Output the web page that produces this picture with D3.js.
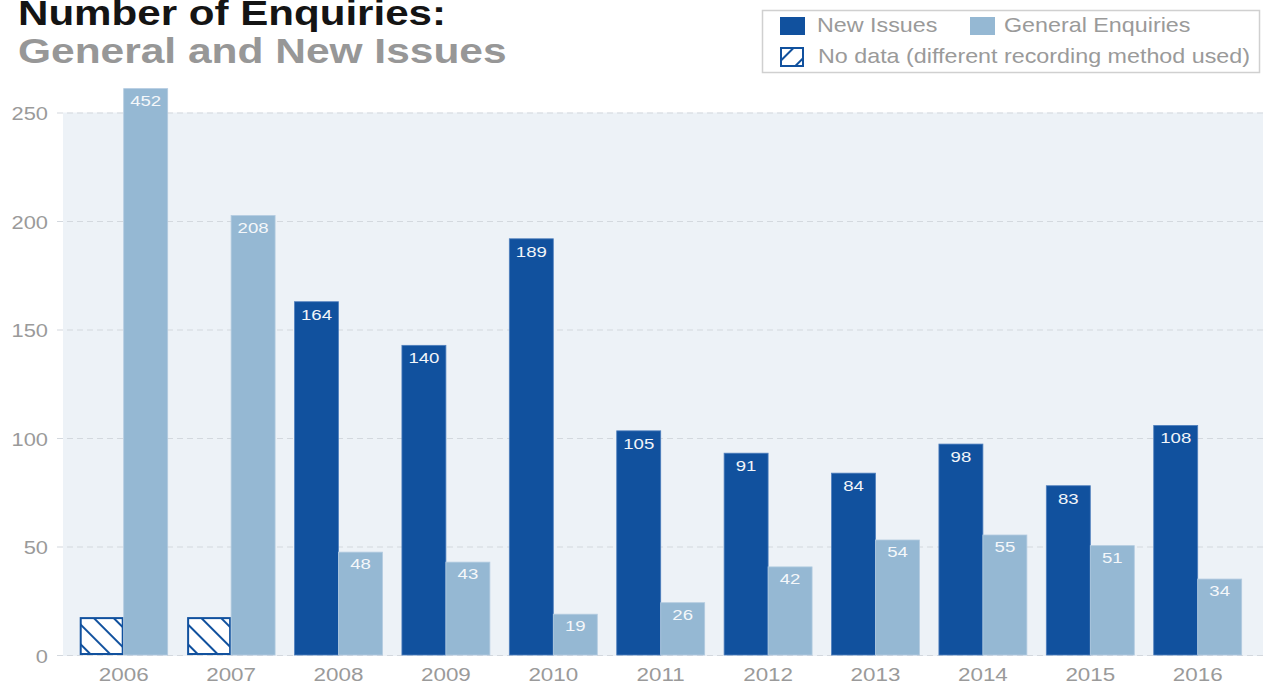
<!DOCTYPE html>
<html>
<head>
<meta charset="utf-8">
<script src="https://cdn.jsdelivr.net/npm/d3@7"></script>
<style>
  body { margin: 0; background: #fff; }
  svg { display: block; font-family: "Liberation Sans", Arial, sans-serif; }
</style>
</head>
<body>
<div id="chart"></div>
<script>
const years = ['2006', '2007', '2008', '2009', '2010', '2011', '2012', '2013', '2014', '2015', '2016'];
// bar heights as drawn in the picture, and the numbers printed on them
const newIssues = [null, null, 162.8, 142.7, 191.8, 103.3, 93, 83.8, 97.2, 78, 105.8];
const newLabels = [null, null, '164', '140', '189', '105', '91', '84', '98', '83', '108'];
const general = [261, 202.5, 47.4, 42.8, 18.8, 24.1, 40.6, 53, 55.3, 50.4, 35];
const generalLabels = ['452', '208', '48', '43', '19', '26', '42', '54', '55', '51', '34'];
const noDataHeight = 17;
const yTicks = [0, 50, 100, 150, 200, 250];

const w = 1263;
const h = 686;
const dark = '#11519e';
const light = '#95b8d3';
const grey = '#9a9a9a';
const sx = 1.15; // the original lettering is a little wide

const stretch = (x, y, s) => 'translate(' + x + ',' + y + ') scale(' + (s || sx) + ',1)';

const svg = d3.select('#chart')
  .append('svg')
  .attr('width', w)
  .attr('height', h);

const defs = svg.append('defs');
[['hatchBack', -45], ['hatchFwd', 45]].forEach(([id, angle]) => {
  const p = defs.append('pattern')
    .attr('id', id)
    .attr('patternUnits', 'userSpaceOnUse')
    .attr('width', 14)
    .attr('height', 14)
    .attr('patternTransform', 'rotate(' + angle + ')');
  p.append('rect').attr('width', 14).attr('height', 14).attr('fill', '#fff');
  p.append('line')
    .attr('x1', 7).attr('x2', 7)
    .attr('y1', 0).attr('y2', 14)
    .attr('stroke', dark)
    .attr('stroke-width', 2);
});

const xScale = d3.scaleBand()
  .domain(years)
  .range([70, 1251.4])
  .paddingInner(0.181)
  .paddingOuter(0.0905);
const x1 = d3.scaleBand()
  .domain(['new', 'general'])
  .range([0, xScale.bandwidth()]);
const yScale = d3.scaleLinear()
  .domain([0, 250])
  .range([655, 112.5]);

// plot background
svg.append('rect')
  .attr('x', 63)
  .attr('y', yScale(250))
  .attr('width', w - 63)
  .attr('height', yScale(0) - yScale(250) + 1)
  .attr('fill', '#edf2f7');

const yAxis = d3.axisLeft(yScale)
  .tickValues(yTicks)
  .tickSize(0)
  .tickFormat('');
const gy = svg.append('g')
  .attr('id', 'y-axis')
  .call(yAxis);
gy.select('.domain').remove();
gy.selectAll('.tick line')
  .attr('x1', 57)
  .attr('x2', w)
  .attr('stroke', '#d3d8de')
  .attr('stroke-width', 1.2)
  .attr('stroke-dasharray', '6,4');
gy.selectAll('.tick')
  .append('text')
  .attr('transform', stretch(48, 7))
  .attr('text-anchor', 'end')
  .attr('fill', grey)
  .attr('font-size', 19)
  .text(d => d);

const groups = svg.selectAll('.year')
  .data(years)
  .enter()
  .append('g')
  .attr('class', 'year')
  .attr('transform', d => 'translate(' + xScale(d) + ',0)');

// New Issues bars
groups.filter((d, i) => newIssues[i] !== null)
  .append('rect')
  .attr('x', x1('new'))
  .attr('y', d => yScale(newIssues[years.indexOf(d)]))
  .attr('width', x1.bandwidth())
  .attr('height', d => yScale(0) - yScale(newIssues[years.indexOf(d)]))
  .attr('fill', dark)
  .attr('stroke', '#4f7fbd')
  .attr('stroke-width', 0.8);

// hatched placeholders where there is no data
groups.filter((d, i) => newIssues[i] === null)
  .append('rect')
  .attr('x', x1('new') + 1)
  .attr('y', yScale(noDataHeight))
  .attr('width', x1.bandwidth() - 2)
  .attr('height', yScale(0) - yScale(noDataHeight) - 1)
  .attr('fill', 'url(#hatchBack)')
  .attr('stroke', dark)
  .attr('stroke-width', 2);

// General Enquiries bars
groups.append('rect')
  .attr('x', x1('general'))
  .attr('y', (d, i) => yScale(general[i]))
  .attr('width', x1.bandwidth())
  .attr('height', (d, i) => yScale(0) - yScale(general[i]))
  .attr('fill', light)
  .attr('stroke', '#b3cbe0')
  .attr('stroke-width', 0.8);

groups.filter((d, i) => newLabels[i] !== null)
  .append('text')
  .attr('transform', d => stretch(x1('new') + x1.bandwidth() / 2, yScale(newIssues[years.indexOf(d)]) + 18, 1.2))
  .attr('text-anchor', 'middle')
  .attr('font-size', 15.5)
  .attr('fill', '#f2f5f9')
  .text(d => newLabels[years.indexOf(d)]);

groups.append('text')
  .attr('transform', (d, i) => stretch(x1('general') + x1.bandwidth() / 2, yScale(general[i]) + 17, 1.2))
  .attr('text-anchor', 'middle')
  .attr('font-size', 15.5)
  .attr('fill', '#f4f7fa')
  .text((d, i) => generalLabels[i]);

const xAxis = d3.axisBottom(xScale)
  .tickSize(0)
  .tickFormat('');
const gx = svg.append('g')
  .attr('id', 'x-axis')
  .attr('transform', 'translate(0,' + yScale(0) + ')')
  .call(xAxis);
gx.select('.domain').remove();
gx.selectAll('.tick')
  .append('text')
  .attr('transform', stretch(0, 26, 1.18))
  .attr('text-anchor', 'middle')
  .attr('fill', grey)
  .attr('font-size', 19)
  .text(d => d);

// titles
svg.append('text')
  .attr('transform', stretch(18, 25, 1.17))
  .attr('font-size', 36)
  .attr('font-weight', 'bold')
  .attr('fill', '#141414')
  .text('Number of Enquiries:');
svg.append('text')
  .attr('transform', stretch(18, 63, 1.18))
  .attr('font-size', 36)
  .attr('font-weight', 'bold')
  .attr('fill', '#979797')
  .text('General and New Issues');

// legend
const legend = svg.append('g').attr('id', 'legend');
legend.append('rect')
  .attr('x', 762.5)
  .attr('y', 10.5)
  .attr('width', 497)
  .attr('height', 62)
  .attr('fill', '#fff')
  .attr('stroke', '#d0d0d0')
  .attr('stroke-width', 1.5);

const legendItems = [
  { label: 'New Issues', fill: dark, x: 780, y: 17, tx: 817, ty: 32 },
  { label: 'General Enquiries', fill: light, x: 970, y: 17, tx: 1004, ty: 32 },
  { label: 'No data (different recording method used)', fill: 'url(#hatchFwd)', x: 781, y: 48, tx: 818, ty: 63 }
];
const items = legend.selectAll('.item')
  .data(legendItems)
  .enter()
  .append('g')
  .attr('class', 'item');
items.append('rect')
  .attr('x', d => d.x)
  .attr('y', d => d.y)
  .attr('width', d => d.fill.startsWith('url') ? 22 : 25)
  .attr('height', 18)
  .attr('fill', d => d.fill)
  .attr('stroke', d => d.fill.startsWith('url') ? dark : 'none')
  .attr('stroke-width', 2);
items.append('text')
  .attr('transform', d => stretch(d.tx, d.ty, 1.165))
  .attr('font-size', 20)
  .attr('fill', grey)
  .attr('font-weight', 300)
  .text(d => d.label);
</script>
</body>
</html>
